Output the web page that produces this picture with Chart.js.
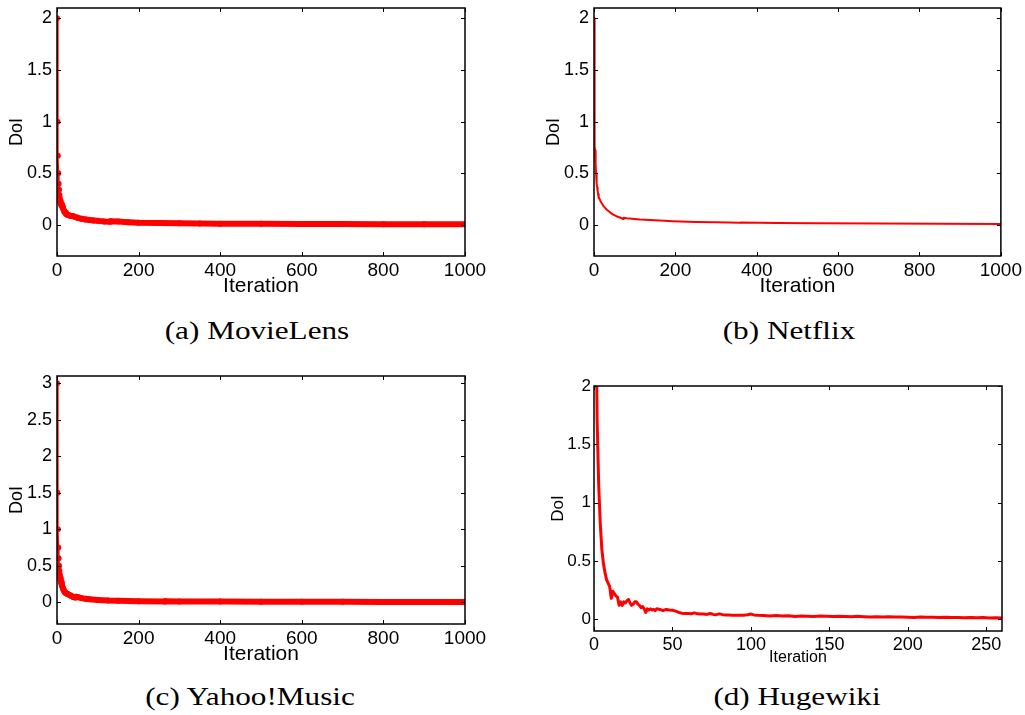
<!DOCTYPE html>
<html>
<head>
<meta charset="utf-8">
<script src="https://cdn.jsdelivr.net/npm/chart.js@4.4.1/dist/chart.umd.min.js"></script>
<style>
  html, body { margin: 0; padding: 0; background: #fff; width: 1025px; height: 715px; overflow: hidden; position: relative; }
  canvas { position: absolute; }
  .cap { position: absolute; font-family: "Liberation Serif", serif; font-size: 26px; line-height: 30px; color: #000; white-space: nowrap; transform: translateX(-50%) scaleX(1.2); }
</style>
</head>
<body>
<canvas id="chartA" width="512" height="312" style="left:0;top:-12px"></canvas>
<canvas id="chartB" width="488" height="312" style="left:537px;top:-12px"></canvas>
<canvas id="chartC" width="512" height="312" style="left:0;top:356px"></canvas>
<canvas id="chartD" width="488" height="305" style="left:537px;top:366px"></canvas>
<div class="cap" style="left:257px;top:316px">(a) MovieLens</div>
<div class="cap" style="left:789px;top:316px">(b) Netflix</div>
<div class="cap" style="left:250px;top:682px">(c) Yahoo!Music</div>
<div class="cap" style="left:797px;top:682px">(d) Hugewiki</div>
<script>
// (a) MovieLens
const mlIter = [0, 1, 2, 3, 4, 5, 6, 7, 8, 9, 10, 11, 12, 13, 14, 16, 18, 20, 22, 25, 28, 32, 36, 40, 45, 50, 60, 70, 80, 90, 100, 115, 130, 131, 150, 175, 200, 250, 300, 350, 400, 500, 600, 700, 800, 900, 1000];
const mlDoI = [2.0, 1.0, 0.67, 0.5, 0.4, 0.34, 0.29, 0.26, 0.23, 0.21, 0.2, 0.19, 0.2, 0.18, 0.17, 0.15, 0.13, 0.12, 0.11, 0.1, 0.095, 0.09, 0.088, 0.085, 0.077, 0.07, 0.06, 0.054, 0.048, 0.044, 0.04, 0.035, 0.032, 0.036, 0.033, 0.027, 0.022, 0.019, 0.016, 0.014, 0.013, 0.012, 0.01, 0.009, 0.008, 0.0075, 0.007];

// (b) Netflix
const nfIter = [0, 1, 2, 3, 4, 5, 6, 7, 8, 9, 10, 11, 12, 14, 16, 19, 24, 31, 40, 47, 55, 65, 72, 73, 80, 100, 113, 150, 194, 250, 300, 358, 360, 450, 550, 700, 850, 1000];
const nfDoI = [2.0, 0.67, 0.76, 0.72, 0.6, 0.5, 0.44, 0.4, 0.36, 0.33, 0.3, 0.26, 0.27, 0.25, 0.23, 0.21, 0.18, 0.15, 0.12, 0.1, 0.085, 0.07, 0.058, 0.07, 0.066, 0.058, 0.053, 0.045, 0.037, 0.03, 0.026, 0.021, 0.023, 0.02, 0.017, 0.014, 0.011, 0.009];

// (c) Yahoo!Music
const ymIter = [0, 1, 2, 3, 4, 5, 6, 7, 8, 9, 10, 12, 14, 16, 18, 20, 23, 26, 30, 35, 40, 45, 46, 50, 60, 70, 80, 100, 125, 150, 200, 264, 265, 300, 400, 500, 600, 700, 800, 900, 1000];
const ymDoI = [3.0, 1.5, 1.0, 0.75, 0.6, 0.5, 0.43, 0.38, 0.33, 0.3, 0.27, 0.23, 0.2, 0.17, 0.15, 0.13, 0.12, 0.11, 0.1, 0.085, 0.07, 0.062, 0.075, 0.07, 0.055, 0.045, 0.038, 0.03, 0.022, 0.018, 0.012, 0.008, 0.012, 0.01, 0.008, 0.006, 0.005, 0.004, 0.003, 0.003, 0.002];

// (d) Hugewiki
const hwIter = [0, 1, 2, 3, 4, 5, 6, 7, 8, 9, 10, 11, 12, 13, 14, 15, 16, 17, 18, 19, 20, 21, 22, 23, 24, 25, 26, 27, 28, 29, 30, 31, 32, 33, 34, 35, 36, 37, 38, 39, 40,
  42, 44, 46, 48, 50, 52, 54, 56, 58, 60, 62, 64, 66, 68, 70, 72, 74, 76, 78, 80, 82, 84, 86, 88, 90, 92, 94, 96, 98, 100, 102, 104,
  108, 112, 116, 120, 124, 128, 132, 136, 140, 144, 148, 152, 156, 160, 164, 168, 172, 176, 180, 184, 188, 192, 196, 200,
  204, 208, 212, 216, 220, 224, 228, 232, 236, 240, 244, 248, 252, 256, 260];
const hwDoI = [5.0, 3.0, 1.7, 1.15, 0.82, 0.6, 0.48, 0.4, 0.34, 0.31, 0.28, 0.18, 0.24, 0.22, 0.2, 0.19, 0.12, 0.15, 0.12, 0.15, 0.14, 0.16, 0.17, 0.14, 0.12, 0.13, 0.15, 0.15, 0.13, 0.12, 0.1, 0.11, 0.09, 0.06, 0.09, 0.08, 0.09, 0.08, 0.085, 0.075, 0.09,
  0.085, 0.075, 0.085, 0.08, 0.078, 0.07, 0.06, 0.052, 0.05, 0.05, 0.048, 0.055, 0.047, 0.045, 0.045, 0.042, 0.05, 0.042, 0.04, 0.047, 0.04, 0.038, 0.037, 0.036, 0.036, 0.035, 0.035, 0.036, 0.04, 0.045, 0.038, 0.035,
  0.033, 0.028, 0.032, 0.028, 0.03, 0.025, 0.028, 0.027, 0.025, 0.028, 0.026, 0.024, 0.026, 0.025, 0.022, 0.026, 0.023, 0.021, 0.022, 0.02, 0.023, 0.019, 0.02, 0.018,
  0.016, 0.019, 0.017, 0.018, 0.016, 0.017, 0.015, 0.016, 0.014, 0.015, 0.013, 0.015, 0.012, 0.014, 0.012];

// tick labels
const iterTicks1000 = [0, 200, 400, 600, 800, 1000];
const iterTicks260 = [0, 50, 100, 150, 200, 250];
const doiTicks2 = [0, 0.5, 1, 1.5, 2];
const doiTicks3 = [0, 0.5, 1, 1.5, 2, 2.5, 3];

Chart.defaults.font.family = '"Liberation Sans", Arial, Helvetica, sans-serif';
Chart.defaults.color = '#000';

// box round the plot with inward ticks on all four sides
const boxTicks = {
  id: 'boxTicks',
  afterDraw(chart) {
    const { ctx, chartArea: a, scales: { x, y } } = chart;
    const len = 4;
    ctx.save();
    ctx.strokeStyle = '#000';
    ctx.lineWidth = 1;
    ctx.beginPath();
    x.ticks.forEach(t => {
      const px = Math.round(x.getPixelForValue(t.value)) + 0.5;
      ctx.moveTo(px, a.bottom); ctx.lineTo(px, a.bottom - len);
      ctx.moveTo(px, a.top); ctx.lineTo(px, a.top + len);
    });
    y.ticks.forEach(t => {
      const py = Math.round(y.getPixelForValue(t.value)) + 0.5;
      ctx.moveTo(a.left, py); ctx.lineTo(a.left + len, py);
      ctx.moveTo(a.right, py); ctx.lineTo(a.right - len, py);
    });
    ctx.stroke();
    ctx.lineWidth = 1.5;
    ctx.strokeRect(a.left, a.top, a.right - a.left, a.bottom - a.top);
    ctx.restore();
  }
};

function makeChart(id, xs, ys, o) {
  const ds = {
    data: xs.map((x, i) => ({ x: x, y: ys[i] })),
    borderColor: '#ff0000',
    backgroundColor: '#ff0000',
    borderWidth: o.lineWidth,
    borderJoinStyle: 'round',
    borderCapStyle: 'round',
    pointRadius: o.pointRadius,
    pointBorderWidth: 0,
    pointBackgroundColor: '#ff0000',
    tension: 0,
    fill: false
  };
  if (o.thinUntil) {
    ds.segment = { borderWidth: c => (c.p0.parsed.x < o.thinUntil ? 2 : o.lineWidth) };
  }
  return new Chart(document.getElementById(id), {
    type: 'line',
    data: { datasets: [ds] },
    options: {
      responsive: false,
      animation: false,
      devicePixelRatio: 1,
      layout: { padding: { top: 20, right: o.padRight, left: 0, bottom: 0 } },
      plugins: { legend: { display: false }, tooltip: { enabled: false } },
      scales: {
        x: {
          type: 'linear', min: o.xMin, max: o.xMax,
          afterBuildTicks: s => { s.ticks = o.xTicks.map(v => ({ value: v })); },
          afterFit: s => { s.height = o.xH; },
          grid: { display: false, drawTicks: false },
          border: { display: false },
          ticks: { autoSkip: false, maxRotation: 0, padding: 3, font: { size: o.xFont }, callback: v => String(v) },
          title: { display: true, text: 'Iteration', font: { size: o.xTitleFont, lineHeight: 1 }, padding: { top: 0, bottom: o.xTitlePad } }
        },
        y: {
          type: 'linear', min: o.yMin, max: o.yMax,
          afterBuildTicks: s => { s.ticks = o.yTicks.map(v => ({ value: v })); },
          afterFit: s => { s.width = 57; },
          grid: { display: false, drawTicks: false },
          border: { display: false },
          ticks: { autoSkip: false, padding: o.yPad, font: { size: o.yFont }, callback: v => String(v) },
          title: { display: true, text: 'DoI', font: { size: o.yTitleFont, lineHeight: 1 }, padding: { top: o.yTitlePad, bottom: 0 } }
        }
      }
    },
    plugins: [boxTicks]
  });
}

const big = { xMin: 0, xMax: 1000, xTicks: iterTicks1000, xH: 44, xFont: 19, xTitleFont: 21, xTitlePad: 3,
  yPad: 5, yFont: 18, yTitleFont: 18, yTitlePad: 8 };

makeChart('chartA', mlIter, mlDoI, Object.assign({}, big, {
  padRight: 47, yMin: -0.3, yMax: 2.1, yTicks: doiTicks2, lineWidth: 6, pointRadius: 3, thinUntil: 8 }));
makeChart('chartB', nfIter, nfDoI, Object.assign({}, big, {
  padRight: 23, yMin: -0.3, yMax: 2.1, yTicks: doiTicks2, lineWidth: 2, pointRadius: 0 }));
makeChart('chartC', ymIter, ymDoI, Object.assign({}, big, {
  padRight: 47, yMin: -0.3, yMax: 3.1, yTicks: doiTicks3, lineWidth: 6, pointRadius: 3, thinUntil: 8 }));
makeChart('chartD', hwIter, hwDoI, {
  xMin: 0, xMax: 260, xTicks: iterTicks260, xH: 40, xFont: 18, xTitleFont: 16, xTitlePad: 5,
  yPad: 3, yFont: 17, yTitleFont: 17, yTitlePad: 12.5,
  padRight: 23, yMin: -0.1, yMax: 2, yTicks: doiTicks2, lineWidth: 3, pointRadius: 0 });
</script>
</body>
</html>
